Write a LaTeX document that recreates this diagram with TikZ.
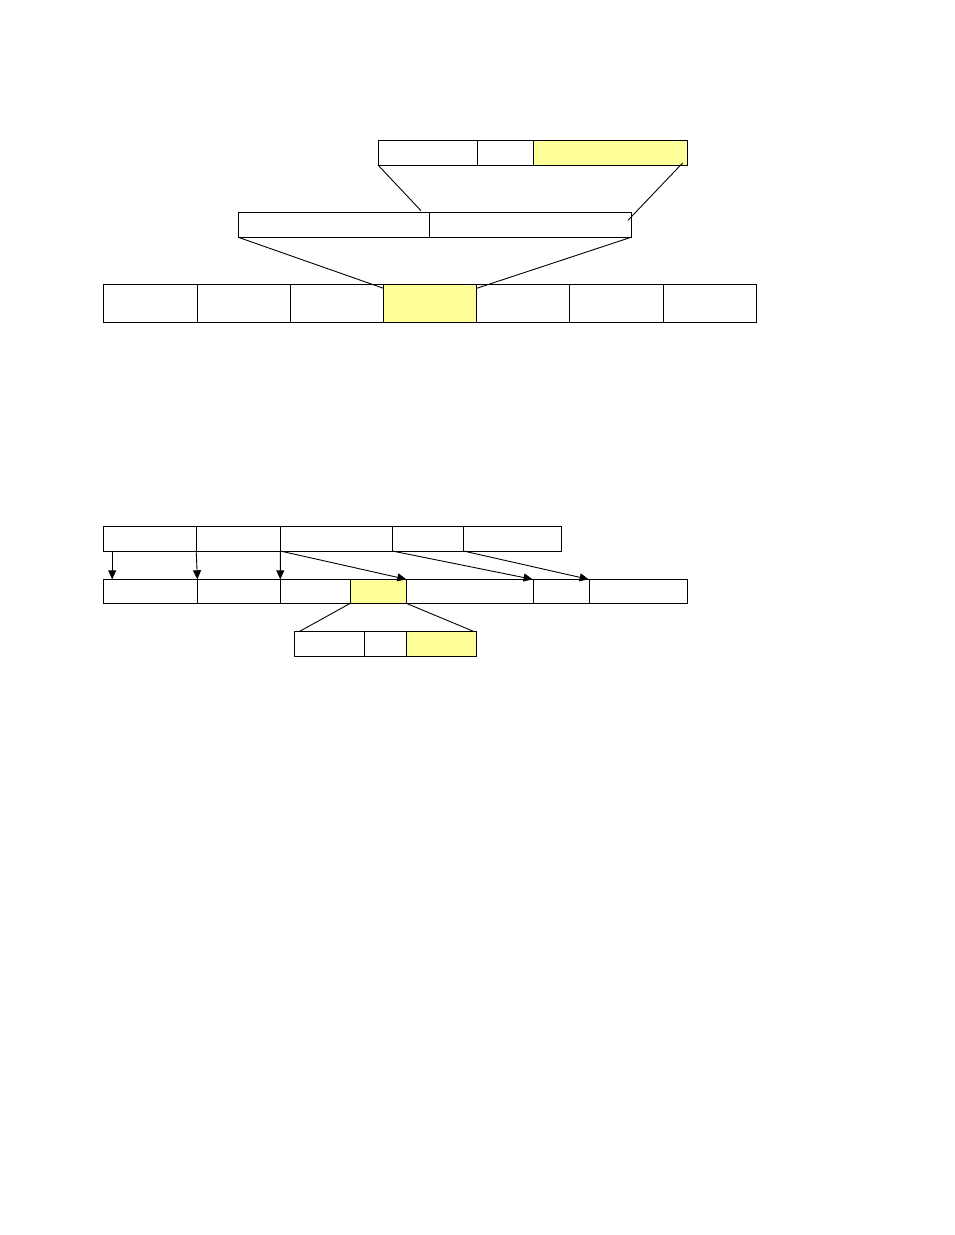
\documentclass[tikz,border=0pt]{standalone}
\usepackage{tikz}
\usetikzlibrary{arrows.meta,positioning}
\definecolor{hilite}{HTML}{FFFF99}
\tikzset{
  cell/.style={draw, rectangle, line width=0.9pt, inner sep=0pt, outer sep=0pt, anchor=north west, minimum height=25pt},
  hcell/.style={cell, fill=hilite},
  link/.style={line width=0.9pt},
  ptr/.style={line width=0.9pt, -{Triangle[length=9pt,width=8pt]}},
}
\begin{document}
\begin{tikzpicture}[x=1pt, y=-1pt]
  \useasboundingbox (0,0) rectangle (954,1235);

  % upper picture: three levels
  \node[cell, minimum width=99.3pt] (a1) at (378,140) {};
  \node[cell, minimum width=55.7pt] (a2) at (a1.north east) {};
  \node[hcell, minimum width=154.6pt] (a3) at (a2.north east) {};

  \node[cell, minimum width=190.7pt] (b1) at (238.3,212.3) {};
  \node[cell, minimum width=202pt] (b2) at (b1.north east) {};

  \node[cell, minimum width=93.2pt, minimum height=38pt] (c1) at (103.9,284.3) {};
  \node[cell, minimum width=93.2pt, minimum height=38pt] (c2) at (c1.north east) {};
  \node[cell, minimum width=93.2pt, minimum height=38pt] (c3) at (c2.north east) {};
  \node[hcell, minimum width=93.2pt, minimum height=38pt] (c4) at (c3.north east) {};
  \node[cell, minimum width=93.2pt, minimum height=38pt] (c5) at (c4.north east) {};
  \node[cell, minimum width=93.2pt, minimum height=38pt] (c6) at (c5.north east) {};
  \node[cell, minimum width=93.2pt, minimum height=38pt] (c7) at (c6.north east) {};

  \draw[link] (a1.south west) -- ([xshift=-8pt,yshift=1.6pt]b1.north east);
  \draw[link] ([xshift=-5pt,yshift=2pt]a3.south east) -- ([xshift=-3pt,yshift=-8pt]b2.north east);
  \draw[link] (b1.south west) -- ([yshift=-4pt]c4.north west);
  \draw[link] (b2.south east) -- ([yshift=-4pt]c4.north east);

  % lower picture: old row, new row, split cell
  \node[cell, minimum width=93pt, minimum height=24.3pt] (d1) at (103.2,526.7) {};
  \node[cell, minimum width=84.1pt, minimum height=24.3pt] (d2) at (d1.north east) {};
  \node[cell, minimum width=112pt, minimum height=24.3pt] (d3) at (d2.north east) {};
  \node[cell, minimum width=71.2pt, minimum height=24.3pt] (d4) at (d3.north east) {};
  \node[cell, minimum width=98.1pt, minimum height=24.3pt] (d5) at (d4.north east) {};

  \node[cell, minimum width=94.2pt, minimum height=24pt] (e1) at (103.2,579.3) {};
  \node[cell, minimum width=82.9pt, minimum height=24pt] (e2) at (e1.north east) {};
  \node[cell, minimum width=70pt, minimum height=24pt] (e3) at (e2.north east) {};
  \node[hcell, minimum width=56pt, minimum height=24pt] (e4) at (e3.north east) {};
  \node[cell, minimum width=127.3pt, minimum height=24pt] (e5) at (e4.north east) {};
  \node[cell, minimum width=56pt, minimum height=24pt] (e6) at (e5.north east) {};
  \node[cell, minimum width=98.1pt, minimum height=24pt] (e7) at (e6.north east) {};

  \node[cell, minimum width=70pt] (f1) at (294.7,631.3) {};
  \node[cell, minimum width=42pt] (f2) at (f1.north east) {};
  \node[hcell, minimum width=69.7pt] (f3) at (f2.north east) {};

  \draw[ptr] ([xshift=9pt]d1.south west) -- ([xshift=9pt]e1.north west);
  \draw[ptr] (d1.south east) -- (e1.north east);
  \draw[ptr] (d2.south east) -- (e2.north east);
  \draw[ptr] (d2.south east) -- (e4.north east);
  \draw[ptr] (d3.south east) -- ([xshift=-1pt]e5.north east);
  \draw[ptr] (d4.south east) -- ([xshift=-1pt]e6.north east);

  \draw[link] (e4.south west) -- ([xshift=5pt]f1.north west);
  \draw[link] (e4.south east) -- ([xshift=-3pt]f3.north east);
\end{tikzpicture}
\end{document}
